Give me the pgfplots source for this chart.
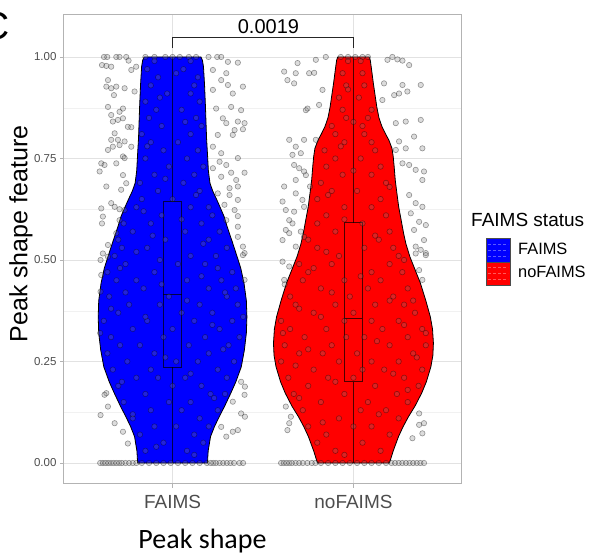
\documentclass[border=0pt]{standalone}
\usepackage{fontspec}
\setmainfont{Liberation Sans}
\newfontfamily\calibri{Carlito}
\usepackage{pgfplots}
\pgfplotsset{compat=1.18}
\definecolor{border}{RGB}{179,179,179}
\definecolor{gridmaj}{RGB}{226,226,226}
\definecolor{gridmin}{RGB}{241,241,241}
\definecolor{ticktxt}{RGB}{77,77,77}
\pgfplotsset{jit/.style={only marks, mark=*, mark size=2.7pt, mark options={draw=black, fill=gray, draw opacity=0.38, fill opacity=0.28, line width=0.6pt}}}
\begin{document}
\begin{tikzpicture}
\path[use as bounding box] (0pt,0pt) rectangle (590pt,556pt);
\begin{axis}[
 at={(64pt,72pt)}, anchor=south west,
 scale only axis, width=398pt, height=469pt,
 xmin=0.4, xmax=2.6, ymin=-0.0517, ymax=1.1034,
 xtick={1,2}, xticklabels={FAIMS,noFAIMS},
 ytick={0,0.25,0.5,0.75,1}, yticklabels={0.00,0.25,0.50,0.75,1.00},
 minor ytick={0.125,0.375,0.625,0.875},
 xtick pos=bottom, ytick pos=left,
 tick align=outside, major tick length=4pt, minor tick length=0pt,
 tick style={draw=border, line width=0.8pt},
 axis line style={draw=border, line width=1pt},
 grid=both,
 major grid style={draw=gridmaj, line width=0.7pt},
 minor grid style={draw=gridmin, line width=0.4pt},
 xticklabel style={font=\fontsize{19}{22}\selectfont, text=ticktxt, yshift=-4pt},
 yticklabel style={font=\fontsize{11.5}{13}\selectfont, text=ticktxt},
]
% violins
\addplot[fill=blue, draw=black, line width=0.8pt] coordinates {
(1.193,0)(1.197,0.03)(1.210,0.065)(1.232,0.09)(1.258,0.114)(1.288,0.14)(1.322,0.172)(1.350,0.2)(1.380,0.237)(1.397,0.278)(1.408,0.32)(1.411,0.36)(1.408,0.4)(1.395,0.443)(1.377,0.48)(1.357,0.508)(1.330,0.545)(1.302,0.582)(1.285,0.607)(1.262,0.631)(1.245,0.648)(1.222,0.67)(1.207,0.689)(1.198,0.72)(1.194,0.754)(1.188,0.8)(1.182,0.877)(1.177,0.93)(1.171,0.976)(1.165,0.992)(1.157,1)
(0.843,1)(0.835,0.992)(0.829,0.976)(0.823,0.93)(0.818,0.877)(0.812,0.8)(0.806,0.754)(0.802,0.72)(0.793,0.689)(0.778,0.67)(0.755,0.648)(0.738,0.631)(0.715,0.607)(0.698,0.582)(0.670,0.545)(0.643,0.508)(0.623,0.48)(0.605,0.443)(0.592,0.4)(0.589,0.36)(0.592,0.32)(0.603,0.278)(0.620,0.237)(0.650,0.2)(0.678,0.172)(0.712,0.14)(0.742,0.114)(0.768,0.09)(0.790,0.065)(0.803,0.03)(0.807,0)
} -- cycle;
\addplot[fill=red, draw=black, line width=0.8pt] coordinates {
(2.199,0)(2.220,0.03)(2.249,0.065)(2.275,0.09)(2.304,0.114)(2.340,0.14)(2.377,0.172)(2.403,0.2)(2.428,0.237)(2.439,0.265)(2.442,0.295)(2.437,0.33)(2.425,0.36)(2.400,0.4)(2.370,0.443)(2.337,0.48)(2.312,0.508)(2.290,0.54)(2.277,0.566)(2.263,0.6)(2.250,0.631)(2.240,0.665)(2.231,0.697)(2.225,0.73)(2.220,0.754)(2.213,0.775)(2.196,0.795)(2.178,0.81)(2.158,0.828)(2.141,0.85)(2.129,0.877)(2.110,0.935)(2.098,0.976)(2.093,0.992)(2.087,1)
(1.913,1)(1.907,0.992)(1.902,0.976)(1.890,0.935)(1.871,0.877)(1.859,0.85)(1.842,0.828)(1.822,0.81)(1.804,0.795)(1.787,0.775)(1.780,0.754)(1.775,0.73)(1.769,0.697)(1.760,0.665)(1.750,0.631)(1.737,0.6)(1.723,0.566)(1.710,0.54)(1.688,0.508)(1.663,0.48)(1.630,0.443)(1.600,0.4)(1.575,0.36)(1.563,0.33)(1.558,0.295)(1.561,0.265)(1.572,0.237)(1.597,0.2)(1.623,0.172)(1.660,0.14)(1.696,0.114)(1.725,0.09)(1.751,0.065)(1.780,0.03)(1.801,0)
} -- cycle;
% jittered points FAIMS
\addplot[jit] coordinates {
(0.621,1)(0.639,1)(0.689,1)(0.707,1)(0.744,1)(0.757,0.991)(0.610,0.980)(0.634,0.978)(0.661,0.976)(0.799,0.976)(0.772,0.968)(0.643,0.943)(0.634,0.927)(0.661,0.923)(0.689,0.927)(0.735,0.923)(0.790,0.915)(0.676,0.906)(0.643,0.877)(0.726,0.873)(0.707,0.865)(0.661,0.857)(0.670,0.841)(0.698,0.845)(0.726,0.849)(0.753,0.828)(0.772,0.827)(0.680,0.812)(0.661,0.796)(0.698,0.796)(0.670,0.779)(0.707,0.783)(0.735,0.792)(0.643,0.771)(0.726,0.755)(0.772,0.779)(0.606,0.738)(0.624,0.734)(0.689,0.738)(0.735,0.751)(0.597,0.718)(0.726,0.709)(0.634,0.681)(0.744,0.689)(0.716,0.673)(0.606,0.627)(0.661,0.640)(0.680,0.631)(0.707,0.625)(0.735,0.623)(0.615,0.607)(0.610,0.590)(0.707,0.598)(0.643,0.537)(0.689,0.566)
(1.199,1)(1.247,1)(1.269,1)(1.306,0.988)(1.361,0.986)(1.223,0.968)(1.297,0.960)(1.269,0.943)(1.306,0.931)(1.389,0.927)(1.223,0.919)(1.333,0.910)(1.241,0.873)(1.324,0.877)(1.379,0.869)(1.278,0.849)(1.297,0.837)(1.361,0.841)(1.398,0.837)(1.343,0.820)(1.389,0.822)(1.250,0.808)(1.333,0.808)(1.223,0.779)(1.269,0.763)(1.361,0.751)(1.260,0.742)(1.223,0.726)(1.297,0.734)(1.324,0.715)(1.398,0.715)(1.269,0.705)(1.352,0.697)(1.315,0.677)(1.361,0.681)(1.250,0.664)(1.315,0.660)(1.361,0.648)(1.287,0.636)(1.343,0.623)(1.361,0.608)(1.297,0.598)(1.361,0.582)(1.361,0.557)(1.389,0.533)(1.398,0.517)
(0.602,0.500)(0.606,0.463)(0.602,0.422)(0.634,0.172)(0.624,0.168)(0.643,0.139)(0.602,0.118)(0.680,0.098)(0.726,0.077)(0.753,0.048)(0.615,0.516)(0.643,0.508)
(1.389,0.512)(1.398,0.451)(1.379,0.200)(1.400,0.188)(1.398,0.168)(1.333,0.151)(1.379,0.122)(1.400,0.114)(1.269,0.089)(1.333,0.077)(1.361,0.081)(1.297,0.065)
(0.600,0)(0.615,0)(0.630,0)(0.645,0)(0.660,0)(0.675,0)(0.690,0)(0.705,0)(0.720,0)(0.740,0)(0.760,0)(0.780,0)(0.800,0)(0.830,0)(0.870,0)(0.910,0)(0.950,0)(0.990,0)(1.030,0)(1.070,0)(1.110,0)(1.150,0)(1.190,0)(1.210,0)(1.225,0)(1.240,0)(1.260,0)(1.280,0)(1.300,0)(1.320,0)(1.340,0)(1.370,0)(1.390,0)
(0.850,1)(0.900,1)(0.960,1)(1.000,1)(1.040,1)(1.090,1)(1.130,1)
(0.85,0.03)(1.08,0.03)(0.95,0.05)(1.17,0.05)(1.12,0.07)(0.82,0.07)(0.90,0.09)(1.02,0.09)(1.20,0.09)(0.78,0.11)(1.15,0.11)(1.05,0.13)(0.88,0.13)(1.25,0.13)(0.73,0.15)(1.10,0.15)(0.98,0.15)(1.21,0.17)(0.85,0.17)(1.29,0.17)(0.70,0.19)(1.00,0.19)(1.16,0.19)(0.80,0.21)(1.30,0.21)(1.07,0.21)(0.92,0.21)(1.25,0.23)(0.67,0.23)(0.88,0.23)(1.14,0.25)(0.75,0.25)(1.34,0.25)(1.02,0.25)(0.64,0.27)(1.20,0.27)(0.90,0.27)(1.31,0.29)(0.82,0.29)(1.09,0.29)(0.71,0.29)(0.95,0.31)(1.37,0.31)(0.66,0.31)(1.18,0.31)(1.26,0.33)(0.78,0.33)(1.00,0.33)(0.62,0.35)(1.12,0.35)(1.33,0.35)(0.86,0.35)(1.22,0.37)(0.70,0.37)(1.05,0.37)(0.93,0.39)(1.36,0.39)(0.76,0.39)(1.15,0.39)(1.30,0.41)(0.65,0.41)(0.98,0.41)(0.84,0.43)(1.20,0.43)(1.35,0.43)(1.08,0.45)(0.69,0.45)(1.27,0.45)(0.80,0.45)(0.90,0.47)(1.33,0.47)(0.64,0.47)(1.18,0.49)(0.74,0.49)(1.03,0.49)(0.68,0.51)(1.24,0.51)(1.10,0.51)(1.30,0.53)(0.86,0.53)(0.72,0.53)(0.96,0.55)(1.20,0.55)(0.70,0.55)(1.26,0.57)(0.78,0.57)(1.07,0.57)(0.88,0.59)(1.16,0.59)(0.73,0.59)(1.22,0.61)(0.94,0.61)(0.80,0.63)(1.10,0.63)(1.20,0.63)(1.00,0.65)(0.83,0.65)(1.15,0.67)(0.92,0.67)(0.82,0.69)(1.06,0.69)(1.12,0.71)(0.90,0.71)(0.98,0.73)(1.17,0.73)(0.85,0.75)(1.08,0.75)(1.14,0.77)(0.95,0.77)(0.88,0.79)(1.03,0.79)(1.10,0.81)(0.83,0.81)(0.94,0.83)(1.16,0.83)(1.13,0.85)(0.87,0.85)(0.91,0.87)(1.05,0.87)(1.15,0.89)(0.85,0.89)(0.97,0.91)(1.10,0.91)(1.12,0.93)(0.88,0.93)(0.92,0.95)(1.14,0.95)(1.06,0.97)(0.86,0.97)(0.90,0.99)(1.10,0.99)
(0.91,0.04)(1.12,0.02)(0.78,0.12)(1.23,0.16)(0.72,0.20)(1.10,0.22)(0.96,0.26)(1.28,0.28)(0.60,0.32)(1.22,0.34)(0.85,0.36)(1.39,0.36)(0.66,0.38)(1.08,0.40)(0.74,0.42)(1.29,0.42)(0.94,0.44)(1.16,0.46)(0.71,0.48)(1.25,0.48)(0.93,0.50)(0.80,0.52)(1.17,0.54)(0.89,0.56)(1.05,0.60)(0.84,0.62)(1.13,0.66)(0.96,0.70)(0.86,0.78)(1.07,0.84)(0.93,0.90)(1.02,0.96)
};
% jittered points noFAIMS
\addplot[jit] coordinates {
(1.617,0.964)(1.635,0.943)(1.691,0.985)(1.681,0.960)(1.755,0.960)(1.783,0.961)(1.792,0.993)(1.847,1)(1.829,0.919)(1.672,0.935)(1.737,0.869)(1.746,0.873)(1.810,0.882)(1.645,0.796)(1.681,0.779)(1.727,0.796)(1.792,0.796)(1.663,0.759)(1.709,0.763)(1.672,0.734)(1.700,0.726)(1.737,0.709)(1.727,0.718)(1.617,0.681)(1.681,0.697)(1.760,0.681)(1.608,0.644)(1.681,0.664)(1.718,0.648)(1.626,0.623)(1.672,0.619)(1.727,0.631)(1.645,0.598)(1.663,0.590)(1.626,0.574)(1.645,0.566)(1.608,0.549)(1.709,0.570)(1.727,0.557)(1.681,0.533)
(2.188,0.993)(2.215,1)(2.243,0.994)(2.271,0.991)(2.308,0.980)(2.169,0.935)(2.271,0.931)(2.298,0.915)(2.372,0.931)(2.160,0.894)(2.225,0.906)(2.252,0.910)(2.234,0.837)(2.289,0.841)(2.372,0.845)(2.335,0.804)(2.252,0.792)(2.289,0.775)(2.381,0.775)(2.234,0.771)(2.271,0.738)(2.308,0.734)(2.344,0.722)(2.390,0.718)(2.381,0.697)(2.308,0.660)(2.344,0.640)(2.381,0.631)(2.317,0.615)(2.363,0.594)(2.400,0.586)(2.335,0.574)(2.390,0.549)(2.344,0.533)(2.400,0.517)(2.372,0.525)
(1.608,0.496)(1.645,0.484)(1.617,0.451)(1.626,0.139)(1.654,0.114)(1.645,0.098)(1.635,0.081)
(2.344,0.516)(2.400,0.512)(2.363,0.475)(2.381,0.451)(2.363,0.122)(2.390,0.098)(2.363,0.094)(2.381,0.073)(2.326,0.061)
(1.600,0)(1.615,0)(1.630,0)(1.645,0)(1.660,0)(1.680,0)(1.700,0)(1.720,0)(1.745,0)(1.770,0)(1.790,0)(1.820,0)(1.860,0)(1.900,0)(1.940,0)(1.980,0)(2.020,0)(2.060,0)(2.100,0)(2.140,0)(2.180,0)(2.210,0)(2.230,0)(2.250,0)(2.270,0)(2.290,0)(2.310,0)(2.330,0)(2.350,0)(2.370,0)(2.390,0)
(1.930,1)(1.970,1)(2.010,1)(2.050,1)(2.080,1)
(1.90,0.03)(2.15,0.03)(2.05,0.05)(1.80,0.05)(1.85,0.07)(2.20,0.07)(2.10,0.09)(1.75,0.09)(2.00,0.09)(1.92,0.11)(2.25,0.11)(2.18,0.13)(1.72,0.13)(2.04,0.13)(1.82,0.15)(2.30,0.15)(2.08,0.15)(2.24,0.17)(1.67,0.17)(1.95,0.17)(1.75,0.19)(2.12,0.19)(2.36,0.19)(2.00,0.21)(1.64,0.21)(2.28,0.21)(1.86,0.21)(2.17,0.23)(1.78,0.23)(2.38,0.23)(2.05,0.23)(1.60,0.25)(2.25,0.25)(1.92,0.25)(2.10,0.25)(2.33,0.27)(1.70,0.27)(2.02,0.27)(1.83,0.27)(1.88,0.29)(2.40,0.29)(2.20,0.29)(1.62,0.29)(2.06,0.31)(1.73,0.31)(2.30,0.31)(1.96,0.31)(1.65,0.33)(2.16,0.33)(2.38,0.33)(1.85,0.33)(2.25,0.35)(1.95,0.35)(1.60,0.35)(2.10,0.35)(1.78,0.37)(2.34,0.37)(2.00,0.37)(2.12,0.39)(1.68,0.39)(2.28,0.39)(1.90,0.39)(1.98,0.41)(2.22,0.41)(1.65,0.41)(2.30,0.43)(1.82,0.43)(2.08,0.43)(1.72,0.45)(2.15,0.45)(1.95,0.45)(2.10,0.47)(1.75,0.47)(2.27,0.47)(1.88,0.49)(2.20,0.49)(1.70,0.49)(2.25,0.51)(1.92,0.51)(1.80,0.53)(2.06,0.53)(2.22,0.53)(2.14,0.55)(1.75,0.55)(1.90,0.57)(2.20,0.57)(2.05,0.59)(1.80,0.59)(1.85,0.61)(2.18,0.61)(2.10,0.63)(1.95,0.63)(1.80,0.65)(2.15,0.65)(2.02,0.67)(1.88,0.67)(2.18,0.69)(1.82,0.69)(1.94,0.71)(2.10,0.71)(2.15,0.73)(1.85,0.73)(1.90,0.75)(2.04,0.75)(2.12,0.77)(1.84,0.77)(1.95,0.79)(2.10,0.79)(2.06,0.81)(1.90,0.81)(1.88,0.83)(2.05,0.83)(2.08,0.85)(1.96,0.85)(1.94,0.87)(2.10,0.87)(2.03,0.90)(1.92,0.90)(1.96,0.93)(2.06,0.93)(2.05,0.96)(1.94,0.96)(1.97,0.99)(2.04,0.99)
(1.95,0.02)(1.83,0.10)(2.14,0.12)(1.70,0.16)(2.30,0.18)(1.90,0.20)(2.22,0.22)(1.68,0.24)(2.35,0.26)(1.75,0.28)(2.13,0.30)(1.61,0.32)(2.28,0.34)(1.82,0.36)(2.40,0.32)(1.70,0.38)(2.20,0.40)(1.88,0.42)(2.33,0.40)(1.62,0.44)(2.04,0.46)(1.78,0.48)(2.28,0.50)(1.85,0.52)(2.12,0.56)(1.95,0.60)(1.86,0.66)(2.20,0.68)(2.00,0.72)(1.93,0.78)(2.00,0.84)(1.97,0.92)
};
% boxplots
\addplot[fill=blue, draw=black, draw opacity=0.7, line width=0.9pt] coordinates {(0.95,0.236)(1.05,0.236)(1.05,0.643)(0.95,0.643)} -- cycle;
\addplot[draw=black, draw opacity=0.7, line width=1.1pt] coordinates {(0.95,0.416)(1.05,0.416)};
\addplot[draw=black, draw opacity=0.7, line width=0.9pt] coordinates {(1,0)(1,0.236)};
\addplot[draw=black, draw opacity=0.7, line width=0.9pt] coordinates {(1,0.643)(1,1)};
\addplot[fill=red, draw=black, draw opacity=0.7, line width=0.9pt] coordinates {(1.95,0.200)(2.05,0.200)(2.05,0.592)(1.95,0.592)} -- cycle;
\addplot[draw=black, draw opacity=0.7, line width=1.1pt] coordinates {(1.95,0.356)(2.05,0.356)};
\addplot[draw=black, draw opacity=0.7, line width=0.9pt] coordinates {(2,0)(2,0.200)};
\addplot[draw=black, draw opacity=0.7, line width=0.9pt] coordinates {(2,0.592)(2,1)};
% significance bracket
\addplot[draw=black!85, line width=0.8pt] coordinates {(1,1.022)(1,1.049)(2,1.049)(2,1.022)};
\node[anchor=base, inner sep=0pt, font=\fontsize{20}{22}\selectfont] at (axis cs:1.53,1.059) {0.0019};
\end{axis}
% panel letter
\node[anchor=base east, inner sep=0pt, font=\fontsize{39}{42}\selectfont] at (10pt,516pt) {C};
% y label
\node[rotate=90, inner sep=0pt, font=\fontsize{25}{28}\selectfont] at (21pt,322pt) {Peak shape feature};
% x title
\node[anchor=base, inner sep=0pt, font=\calibri\fontsize{28}{30}\selectfont] at (202.5pt,7pt) {Peak shape};
% legend
\node[anchor=base west, inner sep=0pt, font=\fontsize{19}{21}\selectfont] at (471pt,329pt) {FAIMS status};
\fill[blue] (486pt,294pt) rectangle (510pt,318pt);
\fill[red] (486pt,271pt) rectangle (510pt,294pt);
\foreach \yy in {300,306,312} {\draw[white, opacity=0.35, line width=0.8pt, dash pattern=on 3pt off 2pt] (488pt,\yy pt) -- (508pt,\yy pt);}
\foreach \yy in {277,283,289} {\draw[white, opacity=0.35, line width=0.8pt, dash pattern=on 3pt off 2pt] (488pt,\yy pt) -- (508pt,\yy pt);}
\draw[black!70, line width=0.8pt] (486pt,294pt) rectangle (510pt,318pt);
\draw[black!70, line width=0.8pt] (486pt,271pt) rectangle (510pt,294pt);
\node[anchor=base west, inner sep=0pt, font=\fontsize{16.4}{18}\selectfont] at (518pt,301pt) {FAIMS};
\node[anchor=base west, inner sep=0pt, font=\fontsize{16.4}{18}\selectfont] at (518pt,278pt) {noFAIMS};
\end{tikzpicture}
\end{document}
